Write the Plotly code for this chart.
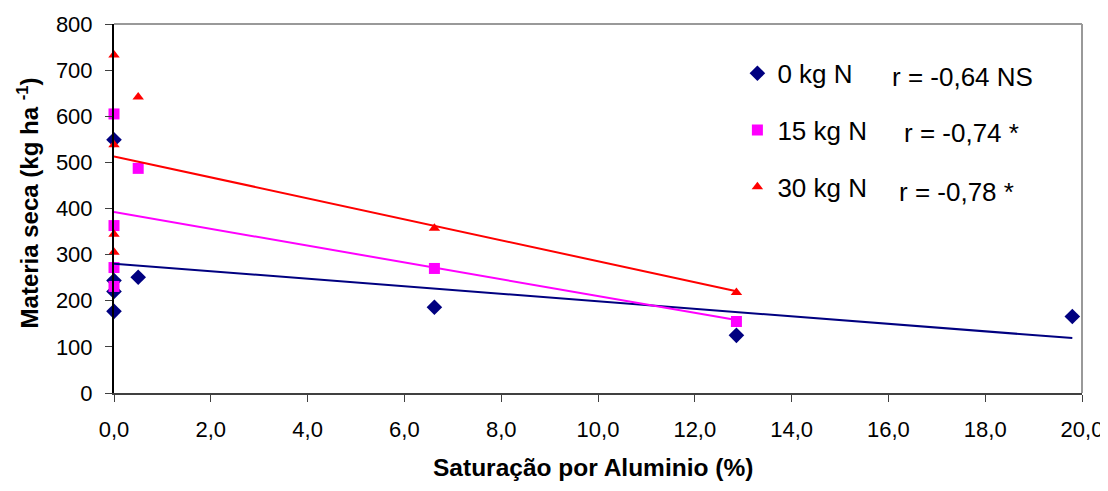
import numpy as np
import plotly.graph_objects as go

# Data
x0 = [0, 0, 0, 0, 0.5, 6.62, 12.86, 19.8]
y0 = [549, 244, 220, 177, 251, 186, 125, 166]
x15 = [0, 0, 0, 0, 0.5, 6.62, 12.86]
y15 = [605, 363, 272, 231, 487, 270, 155]
x30 = [0, 0, 0, 0, 0.5, 6.62, 12.86]
y30 = [733, 538, 344, 305, 642, 357, 218]

names = ["0 kg N", "15 kg N", "30 kg N"]
r_labels = ["r = -0,64 NS", "r = -0,74 *", "r = -0,78 *"]
x_ticks = [0, 2, 4, 6, 8, 10, 12, 14, 16, 18, 20]
y_ticks = [0, 100, 200, 300, 400, 500, 600, 700, 800]

colors = ["#000080", "#FF00FF", "#FF0000"]
symbols = ["diamond", "square", "triangle-up"]
sizes = [12, 11, 10]

series = [(x0, y0), (x15, y15), (x30, y30)]

fig = go.Figure()
for i, (xs, ys) in enumerate(series):
    fig.add_trace(go.Scatter(
        x=xs, y=ys, mode="markers", name=names[i],
        legendgroup=names[i],
        marker=dict(symbol=symbols[i], color=colors[i], size=sizes[i]),
        cliponaxis=False,
    ))
for i, (xs, ys) in enumerate(series):
    b, a = np.polyfit(xs, ys, 1)
    xl = [min(xs), max(xs)]
    fig.add_trace(go.Scatter(
        x=xl, y=[a + b * v for v in xl], mode="lines",
        line=dict(color=colors[i], width=2), showlegend=False,
        hoverinfo="skip", cliponaxis=False,
    ))

font_family = "Liberation Sans, Arial, sans-serif"
r_pos = [(0.8017, 0.8564), (0.814, 0.7046), (0.8089, 0.5447)]
for lab, (px, py) in zip(r_labels, r_pos):
    fig.add_annotation(text=lab, x=px, y=py, xref="paper", yref="paper",
                       xanchor="left", yanchor="middle", showarrow=False,
                       font=dict(size=26, color="black", family=font_family))

# axis titles as annotations
fig.add_annotation(text="<b>Saturação por Aluminio (%)</b>", x=0.495, y=-0.203,
                   xref="paper", yref="paper", xanchor="center", yanchor="middle",
                   showarrow=False, font=dict(size=24.5, color="black", family=font_family))
fig.add_annotation(text="<b>Materia seca (kg ha <sup>-1</sup>)</b>", x=-0.089, y=0.516,
                   xref="paper", yref="paper", xanchor="center", yanchor="middle",
                   textangle=-90, showarrow=False,
                   font=dict(size=24, color="black", family=font_family))

fig.update_layout(
    width=1100, height=483,
    margin=dict(l=106, r=26, t=16, b=98),
    paper_bgcolor="white", plot_bgcolor="white",
    separators=",.",
    font=dict(family=font_family, color="black"),
    showlegend=True,
    legend=dict(x=0.644, y=0.93, xanchor="left", yanchor="top",
                font=dict(size=26), tracegroupgap=20,
                bgcolor="rgba(0,0,0,0)", itemwidth=30),
    xaxis=dict(range=[0, 20], tickvals=x_ticks, tickformat=".1f",
               showgrid=False, zeroline=False, showline=True, linecolor="#404040",
               linewidth=2, ticks="outside", ticklen=7, tickcolor="#404040",
               tickfont=dict(size=22), ticklabelstandoff=9, automargin=False),
    yaxis=dict(range=[0, 800], tickvals=y_ticks,
               showgrid=False, zeroline=False, showline=True, linecolor="black",
               linewidth=2, ticks="outside", ticklen=7, tickcolor="#404040",
               tickfont=dict(size=22), ticklabelstandoff=8, automargin=False),
)
# gray top/right border
fig.add_shape(type="line", xref="paper", yref="paper", x0=0, x1=1, y0=1, y1=1,
              line=dict(color="#999999", width=2))
fig.add_shape(type="line", xref="paper", yref="paper", x0=1, x1=1, y0=0, y1=1,
              line=dict(color="#999999", width=2))

fig.write_html("out.html")
